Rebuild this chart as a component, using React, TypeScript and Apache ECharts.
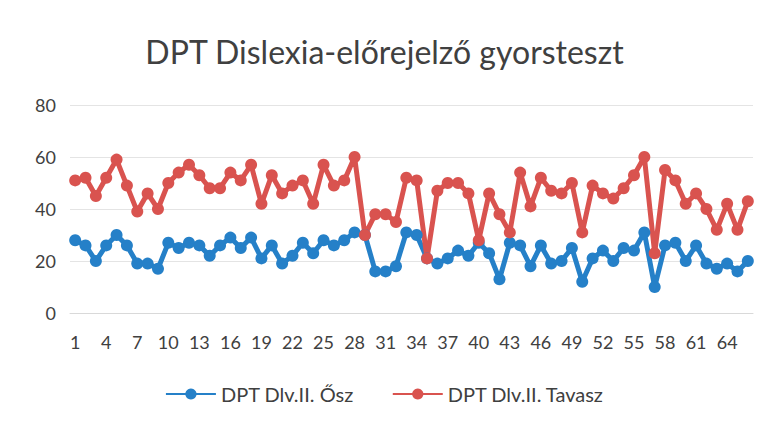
import React, { useEffect, useRef } from "react";
import * as echarts from "echarts";

const categories: string[] = Array.from({ length: 66 }, (_, i) => String(i + 1));

const oszValues: number[] = [
  28, 26, 20, 26, 30, 26, 19, 19, 17, 27,
  25, 27, 26, 22, 26, 29, 25, 29, 21, 26,
  19, 22, 27, 23, 28, 26, 28, 31, 30, 16,
  16, 18, 31, 30, 21, 19, 21, 24, 22, 27,
  23, 13, 27, 26, 18, 26, 19, 20, 25, 12,
  21, 24, 20, 25, 24, 31, 10, 26, 27, 20,
  26, 19, 17, 19, 16, 20,
];

const tavaszValues: number[] = [
  51, 52, 45, 52, 59, 49, 39, 46, 40, 50,
  54, 57, 53, 48, 48, 54, 51, 57, 42, 53,
  46, 49, 51, 42, 57, 49, 51, 60, 30, 38,
  38, 35, 52, 51, 21, 47, 50, 50, 46, 28,
  46, 38, 31, 54, 41, 52, 47, 46, 50, 31,
  49, 46, 44, 48, 53, 60, 23, 55, 51, 42,
  46, 40, 32, 42, 32, 43,
];

const seriesNames = ["DPT Dlv.II. Ősz", "DPT Dlv.II. Tavasz"];
const titleText = "DPT Dislexia-előrejelző gyorsteszt";

export default function App() {
  const ref = useRef<HTMLDivElement>(null);
  useEffect(() => {
    if (!ref.current) return;
    const chart = echarts.init(ref.current, undefined, { renderer: "svg" });
    const font = "Lato, 'Open Sans', sans-serif";
    chart.setOption({
      animation: false,
      backgroundColor: "#ffffff",
      title: {
        text: titleText,
        left: "center",
        top: 30,
        textStyle: { fontFamily: font, fontSize: 32, fontWeight: 400, color: "#404040" },
      },
      grid: { left: 70, right: 16, top: 105, bottom: 108 },
      legend: {
        bottom: 12,
        left: "center",
        itemWidth: 50,
        itemHeight: 14,
        itemGap: 38,
        textStyle: { fontFamily: font, fontSize: 20, color: "#404040" },
        data: seriesNames,
      },
      xAxis: {
        type: "category",
        data: categories,
        boundaryGap: true,
        axisLine: { show: true, lineStyle: { color: "#d9d9d9" } },
        axisTick: { show: false },
        axisLabel: { interval: 2, margin: 20, fontFamily: font, fontSize: 18, color: "#404040" },
      },
      yAxis: {
        type: "value",
        min: 0,
        max: 80,
        interval: 20,
        axisLine: { show: false },
        axisTick: { show: false },
        splitLine: { lineStyle: { color: "#e4e4e4" } },
        axisLabel: { margin: 14, fontFamily: font, fontSize: 18, color: "#404040" },
      },
      series: [
        {
          name: seriesNames[0],
          type: "line",
          data: oszValues,
          symbol: "circle",
          symbolSize: 12,
          showAllSymbol: true,
          lineStyle: { width: 5, color: "#2580c8" },
          itemStyle: { color: "#2580c8" },
        },
        {
          name: seriesNames[1],
          type: "line",
          data: tavaszValues,
          symbol: "circle",
          symbolSize: 12,
          showAllSymbol: true,
          lineStyle: { width: 5, color: "#d9534f" },
          itemStyle: { color: "#d9534f" },
        },
      ],
    });
    return () => chart.dispose();
  }, []);
  return <div ref={ref} style={{ width: 769, height: 421, position: "absolute", left: 0, top: 0 }} />;
}
